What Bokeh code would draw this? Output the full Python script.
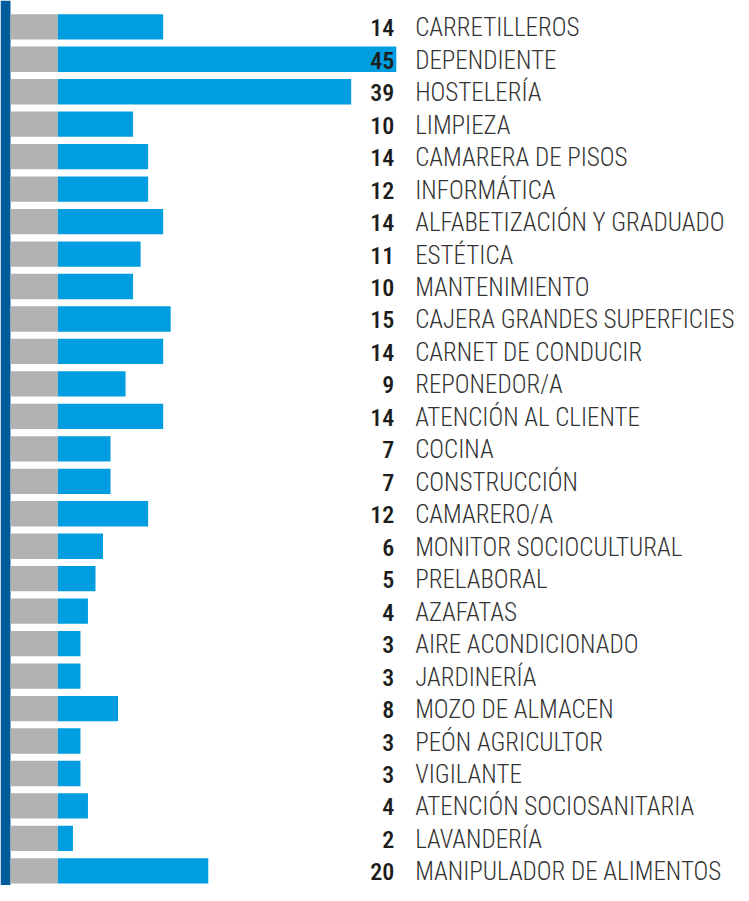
from bokeh.plotting import figure
from bokeh.models import ColumnDataSource, Range1d
from bokeh.core.properties import value
from bokeh.embed import file_html
from bokeh.resources import INLINE

categories = [
    "CARRETILLEROS", "DEPENDIENTE", "HOSTELERÍA", "LIMPIEZA", "CAMARERA DE PISOS",
    "INFORMÁTICA", "ALFABETIZACIÓN Y GRADUADO", "ESTÉTICA", "MANTENIMIENTO",
    "CAJERA GRANDES SUPERFICIES", "CARNET DE CONDUCIR", "REPONEDOR/A",
    "ATENCIÓN AL CLIENTE", "COCINA", "CONSTRUCCIÓN", "CAMARERO/A",
    "MONITOR SOCIOCULTURAL", "PRELABORAL", "AZAFATAS", "AIRE ACONDICIONADO",
    "JARDINERÍA", "MOZO DE ALMACEN", "PEÓN AGRICULTOR", "VIGILANTE",
    "ATENCIÓN SOCIOSANITARIA", "LAVANDERÍA", "MANIPULADOR DE ALIMENTOS",
]
# bar lengths as drawn
bar_values = [14, 45, 39, 10, 12, 12, 14, 11, 10, 15, 14, 9, 14, 7, 7, 12,
              6, 5, 4, 3, 3, 8, 3, 3, 4, 2, 20]
# numbers as printed
label_values = [14, 45, 39, 10, 14, 12, 14, 11, 10, 15, 14, 9, 14, 7, 7, 12,
                6, 5, 4, 3, 3, 8, 3, 3, 4, 2, 20]

BLUE = "#009de0"
GREY = "#b2b2b3"
DARK = "#005b9c"

n = len(categories)
rows = list(range(n))
gray_len = 6.3
strip_len = 1.33
anchor = max(bar_values) - 0.15

src = ColumnDataSource(dict(
    y=rows,
    v=bar_values,
    zero=[0] * n,
    gl=[-gray_len] * n,
    anchor=[anchor] * n,
    num=[str(x) for x in label_values],
    cat=categories,
))

y_bottom = n - 1 + 0.45
y_top = -0.81

p = figure(width=741, height=885, output_backend="svg", toolbar_location=None,
           x_range=Range1d(-gray_len - strip_len, 90.9),
           y_range=Range1d(y_bottom, y_top),
           min_border=0, min_border_left=0, min_border_right=0,
           min_border_top=0, min_border_bottom=0)
p.axis.visible = False
p.grid.visible = False
p.outline_line_color = None
p.background_fill_color = "white"
p.border_fill_color = "white"

# dark strip along the left edge
p.quad(left=-gray_len - strip_len, right=-gray_len, bottom=y_bottom, top=y_top,
       fill_color=DARK, line_color=None)

p.hbar(y="y", left="gl", right="zero", height=0.78, source=src,
       fill_color=GREY, line_color=None)
p.hbar(y="y", left="zero", right="v", height=0.78, source=src,
       fill_color=BLUE, line_color=None)

p.text(x="anchor", y="y", text="num", source=src, text_align="right",
       text_baseline="middle", text_font=value("Roboto Condensed Medium, Roboto Condensed"),
       text_font_size="24px", text_color="#1d1d1b", x_offset=-1, y_offset=1)
p.text(x="anchor", y="y", text="cat", source=src, text_align="left",
       text_baseline="middle",
       text_font=value("Roboto Condensed Light, Roboto Condensed"),
       text_font_size="25px", text_color="#333333", x_offset=20, y_offset=1)

open("out.html", "w").write(file_html(p, INLINE))
